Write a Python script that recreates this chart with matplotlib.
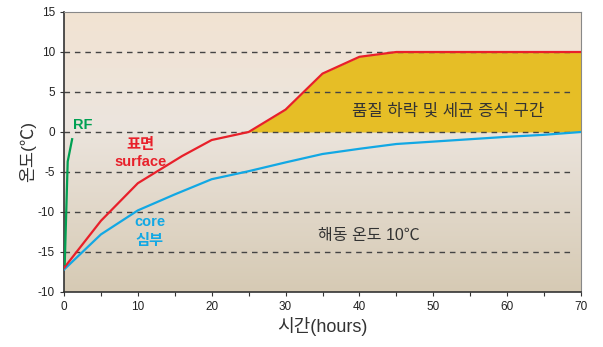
import matplotlib
matplotlib.use("Agg")
import matplotlib.pyplot as plt
import numpy as np
from matplotlib.colors import LinearSegmentedColormap

plt.rcParams["font.family"] = ["Liberation Sans", "Noto Sans CJK KR", "DejaVu Sans"]
plt.rcParams["axes.unicode_minus"] = False

# data
surface_x = [0, 5, 10, 16, 20, 25, 30, 35, 40, 45, 50, 60, 70]
surface_y = [-17, -11.1, -6.4, -3.0, -1.0, 0.0, 2.8, 7.3, 9.4, 10, 10, 10, 10]
core_x = [0, 5, 10, 15, 20, 25, 30, 35, 40, 45, 50, 55, 60, 65, 70]
core_y = [-17.2, -12.8, -9.8, -7.8, -5.9, -4.9, -3.8, -2.75, -2.1, -1.5, -1.2, -0.9, -0.6, -0.35, 0]
rf_x = [0.1, 0.5, 1.1]
rf_y = [-16.5, -3.7, -0.9]

y_ticks = [15, 10, 5, 0, -5, -10, -15, -20]
y_tick_labels = ["15", "10", "5", "0", "-5", "-10", "-15", "-10"]
x_ticks = [0, 10, 20, 30, 40, 50, 60, 70]
grid_levels = [10, 5, 0, -5, -10, -15]

RED = "#E8202A"
BLUE = "#12A8E4"
GREEN = "#00A052"
GOLD = "#E6BE26"
TEXT = "#333333"

fig = plt.figure(figsize=(6.03, 3.47), dpi=100)
ax = fig.add_axes([64 / 603, 55 / 347, 517 / 603, 280 / 347])

# background gradient
bg = LinearSegmentedColormap.from_list(
    "bg", [(0.0, "#D6CAB4"), (0.6, "#ECE5DE"), (1.0, "#F2E3D2")]
)
grad = np.linspace(0, 1, 256).reshape(-1, 1)
ax.imshow(grad, cmap=bg, aspect="auto", origin="lower",
          extent=[0, 70, -20, 15], zorder=0)

# gold fill between surface and 0
xs = np.array(surface_x, dtype=float)
ys = np.array(surface_y, dtype=float)
ax.fill_between(xs, 0, ys, where=ys >= 0, color=GOLD, zorder=1, linewidth=0)

for lv in grid_levels:
    ax.plot([0, 69], [lv, lv], linestyle=(0, (4, 3.5)), color="#444444",
            linewidth=1.0, zorder=2)

ax.plot(core_x, core_y, color=BLUE, linewidth=1.6, zorder=3)
ax.plot(surface_x, surface_y, color=RED, linewidth=1.6, zorder=4)
ax.plot(rf_x, rf_y, color=GREEN, linewidth=1.6, zorder=4)

ax.text(2.6, 0.9, "RF", color=GREEN, fontsize=10.5, fontweight="bold",
        ha="center", va="center")
ax.text(10.3, -1.6, "표면", color=RED, fontsize=11, fontweight="bold",
        ha="center", va="center")
ax.text(10.3, -3.8, "surface", color=RED, fontsize=10.5, fontweight="bold",
        ha="center", va="center")
ax.text(11.6, -11.3, "core", color=BLUE, fontsize=10.5, fontweight="bold",
        ha="center", va="center")
ax.text(11.6, -13.6, "심부", color=BLUE, fontsize=11, fontweight="bold",
        ha="center", va="center")
ax.text(52, 2.6, "품질 하락 및 세균 증식 구간", color=TEXT, fontsize=12,
        ha="center", va="center")
ax.text(41.3, -12.9, "해동 온도 10℃", color=TEXT, fontsize=11.5,
        ha="center", va="center")

ax.set_xlim(0, 70)
ax.set_ylim(-20, 15)
ax.set_xticks(x_ticks)
ax.set_xticks(np.arange(5, 70, 5), minor=True)
ax.set_yticks(y_ticks)
ax.set_yticklabels(y_tick_labels)
ax.tick_params(axis="both", labelsize=8.5, color="#333333", labelcolor="#222222",
               length=3, width=0.8)
ax.tick_params(axis="x", which="minor", length=3, width=0.8, color="#333333")
for side in ["left", "bottom"]:
    ax.spines[side].set_color("#333333")
    ax.spines[side].set_linewidth(1.2)
for side in ["top", "right"]:
    ax.spines[side].set_color("#888888")
    ax.spines[side].set_linewidth(0.8)

ax.set_xlabel("시간(hours)", fontsize=13, color="#333333", labelpad=3)
ax.set_ylabel("온도(℃)", fontsize=12.5, color="#333333", labelpad=1)

fig.savefig("out.png", dpi=100)
